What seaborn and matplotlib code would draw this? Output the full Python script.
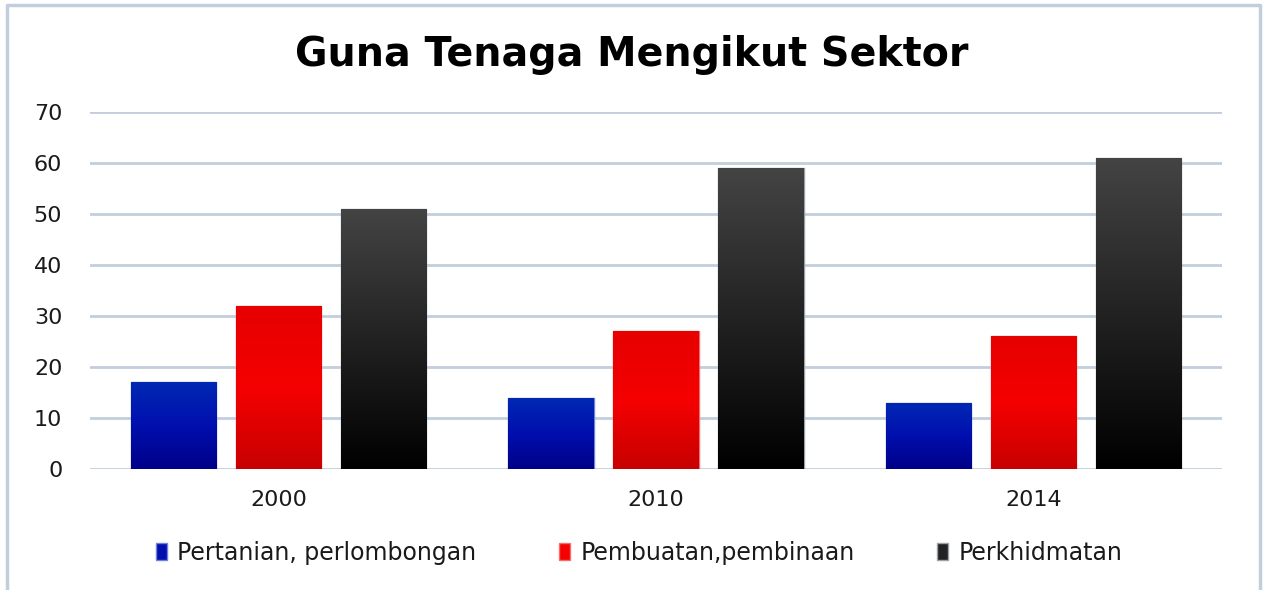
import numpy as np
import pandas as pd
import matplotlib.pyplot as plt
import seaborn as sns
from matplotlib.colors import LinearSegmentedColormap
from matplotlib.patches import Patch
from matplotlib.lines import Line2D

years = ["2000", "2010", "2014"]
sectors = ["Pertanian, perlombongan", "Pembuatan,pembinaan", "Perkhidmatan"]
pertanian = [17, 14, 13]
pembuatan = [32, 27, 26]
perkhidmatan = [51, 59, 61]

df = pd.DataFrame({
    "year": years * 3,
    "sector": [sectors[0]] * 3 + [sectors[1]] * 3 + [sectors[2]] * 3,
    "value": pertanian + pembuatan + perkhidmatan,
})

# top, middle, bottom colours of each bar gradient
grads = {
    sectors[0]: ["#0029b4", "#000fae", "#000088"],
    sectors[1]: ["#e60000", "#f50000", "#c80000"],
    sectors[2]: ["#444444", "#222222", "#000000"],
}
edges = {sectors[0]: "#6f82d8", sectors[1]: "#f07070", sectors[2]: "#9aa0a8"}
solid = {k: v[1] for k, v in grads.items()}

sns.set_theme(style="white")
plt.rcParams["font.family"] = ["DejaVu Sans"]

fig = plt.figure(figsize=(12.63, 5.90), dpi=100)
ax = fig.add_axes([0.0713, 0.205, 0.8962, 0.605])

sns.barplot(data=df, x="year", y="value", hue="sector", hue_order=sectors,
            palette=solid, width=0.835, gap=0.19, ax=ax, legend=False,
            saturation=1)

# gradient fill clipped to each bar
grad_img = np.linspace(0, 1, 256).reshape(-1, 1)
for i, cont in enumerate(ax.containers):
    name = sectors[i]
    cmap = LinearSegmentedColormap.from_list(name, grads[name])
    for bar in cont:
        x0, y0 = bar.get_x(), bar.get_y()
        w, h = bar.get_width(), bar.get_height()
        bar.set_edgecolor(edges[name])
        bar.set_linewidth(1.0)
        im = ax.imshow(grad_img, cmap=cmap, aspect="auto", origin="upper",
                       extent=[x0, x0 + w, y0, y0 + h], zorder=bar.get_zorder())
        im.set_clip_path(bar)

ax.set_xlim(-0.5, 2.5)
ax.set_ylim(0, 70)
ax.set_yticks(range(0, 71, 10))
ax.yaxis.grid(True, color="#c3cedd", linewidth=2)
ax.set_axisbelow(True)
for s in ax.spines.values():
    s.set_visible(False)
ax.set_xlabel("")
ax.set_ylabel("")
ax.tick_params(axis="both", length=0, labelsize=16, colors="#1a1a1a")
ax.tick_params(axis="x", pad=15)
ax.tick_params(axis="y", pad=20)

fig.text(0.5, 0.906, "Guna Tenaga Mengikut Sektor", ha="center", va="center",
         fontsize=28.5, fontweight="bold", color="black")

handles = [Patch(facecolor=solid[s], edgecolor=edges[s]) for s in sectors]
fig.legend(handles, sectors, loc="center", bbox_to_anchor=(0.506, 0.063),
           ncol=3, frameon=False, fontsize=17, handlelength=0.45,
           handleheight=0.7, handletextpad=0.45, columnspacing=3.5,
           labelcolor="#1a1a1a")

# outer chart frame (left, top, right)
W, H = 1263, 590
fx = [7 / W, 7 / W, 1260 / W, 1260 / W]
fy = [0, 1 - 5 / H, 1 - 5 / H, 0]
fig.add_artist(Line2D(fx, fy, transform=fig.transFigure, color="#c3cedd",
                      linewidth=2.5))

fig.savefig("out.png", dpi=100)
